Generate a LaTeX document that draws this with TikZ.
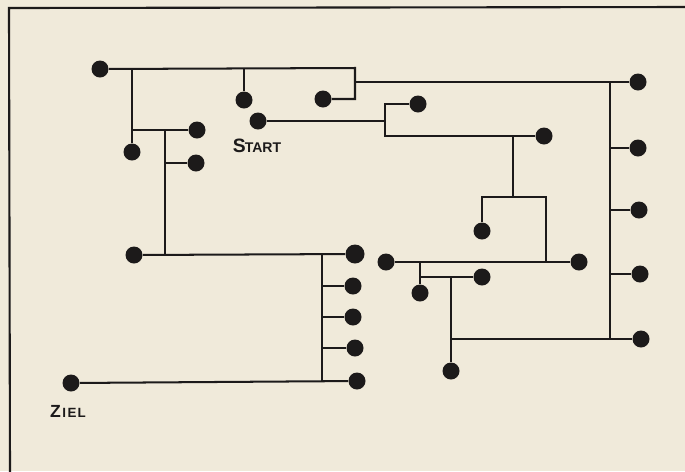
\documentclass[tikz,border=0pt]{standalone}
\usepackage{fontspec}
\setmainfont{Liberation Sans}
\definecolor{paper}{RGB}{240,234,218}
\definecolor{ink}{RGB}{28,26,26}
\begin{document}
\begin{tikzpicture}[x=0.02cm,y=-0.02cm,
  dot/.style={circle,fill=ink,draw=none,inner sep=0pt,minimum size=0.34cm},
  bigdot/.style={dot,minimum size=0.38cm},
  wire/.style={draw=ink,line width=1.15pt},
  frameline/.style={draw=ink,line width=1.2pt},
  lbl/.style={text=ink,inner sep=0pt,font=\bfseries}]
\fill[paper] (0,0) rectangle (685,471);
\useasboundingbox (0,0) rectangle (685,471);
% frame
\coordinate (fr1) at (690,7);
\coordinate (fr2) at (9,8);
\coordinate (fr3) at (10,476);
\draw[frameline] (fr1) -- (fr2) -- (fr3);
% dots
\node[dot] (d1) at (100,69) {};
\node[dot] (d2) at (132,152) {};
\node[dot] (d3) at (244,100) {};
\node[dot] (d4) at (323,99) {};
\node[dot] (d5) at (258,121) {};
\node[dot] (d6) at (418,104) {};
\node[dot] (d7) at (544,136) {};
\node[dot] (d8) at (482,231) {};
\node[dot] (d9) at (638,82) {};
\node[dot] (d10) at (638,148) {};
\node[dot] (d11) at (639,210) {};
\node[dot] (d12) at (640,274) {};
\node[dot] (d13) at (641,339) {};
\node[dot] (d14) at (197,130) {};
\node[dot] (d15) at (196,163) {};
\node[dot] (d16) at (134,255) {};
\node[bigdot] (d17) at (355,254) {};
\node[dot] (d18) at (353,286) {};
\node[dot] (d19) at (353,317) {};
\node[dot] (d20) at (355,348) {};
\node[dot] (d21) at (357,381) {};
\node[dot] (d22) at (71,383) {};
\node[dot] (d23) at (386,262) {};
\node[dot] (d24) at (579,262) {};
\node[dot] (d25) at (420,293) {};
\node[dot] (d26) at (482,277) {};
\node[dot] (d27) at (451,371) {};
% labels
\node[lbl] (start) at (257,146) {\fontsize{11}{11}\selectfont S\kern-0.5pt\fontsize{8}{8}\selectfont TART};
\node[lbl] (ziel) at (68,411) {\fontsize{10}{10}\selectfont Z\kern0.8pt\fontsize{7.6}{8}\selectfont I\kern1pt E\kern0.6pt L};
% junction coordinates
\coordinate (j1) at (132,69);
\coordinate (j2) at (244,69);
\coordinate (j3) at (355,68);
\coordinate (j4) at (355,99);
\coordinate (j5) at (355,82);
\coordinate (j6) at (610,82);
\coordinate (j7) at (610,339);
\coordinate (j8) at (385,121);
\coordinate (j9) at (385,104);
\coordinate (j10) at (385,136);
\coordinate (j11) at (513,136);
\coordinate (j12) at (513,197);
\coordinate (j13) at (482,197);
\coordinate (j14) at (546,197);
\coordinate (j15) at (546,262);
\coordinate (j16) at (132,130);
\coordinate (j17) at (165,130);
\coordinate (j18) at (165,255);
\coordinate (j19) at (165,163);
\coordinate (j20) at (322,255);
\coordinate (j21) at (322,382);
\coordinate (j22) at (420,262);
\coordinate (j23) at (420,277);
\coordinate (j24) at (451,277);
\coordinate (j25) at (451,339);
% wires
\draw[wire] (d1) -- (j3) -- (j4) -- (d4);
\draw[wire] (j1) -- (d2);
\draw[wire] (j2) -- (d3);
\draw[wire] (j5) -- (d9);
\draw[wire] (j6) -- (j7);
\draw[wire] (d10 -| j6) -- (d10);
\draw[wire] (d11 -| j6) -- (d11);
\draw[wire] (d12 -| j6) -- (d12);
\draw[wire] (j7) -- (d13);
\draw[wire] (d5) -- (j8);
\draw[wire] (d6) -- (j9) -- (j10) -- (d7);
\draw[wire] (j11) -- (j12);
\draw[wire] (d8) -- (j13) -- (j14) -- (j15);
\draw[wire] (j16) -- (d14);
\draw[wire] (j17) -- (j18);
\draw[wire] (j19) -- (d15);
\draw[wire] (d16) -- (d17);
\draw[wire] (j20) -- (j21);
\draw[wire] (d18 -| j20) -- (d18);
\draw[wire] (d19 -| j20) -- (d19);
\draw[wire] (d20 -| j20) -- (d20);
\draw[wire] (d22) -- (d21);
\draw[wire] (d23) -- (d24);
\draw[wire] (j22) -- (d25);
\draw[wire] (j23) -- (d26);
\draw[wire] (j24) -- (d27);
\draw[wire] (j25) -- (d13);
\end{tikzpicture}
\end{document}
